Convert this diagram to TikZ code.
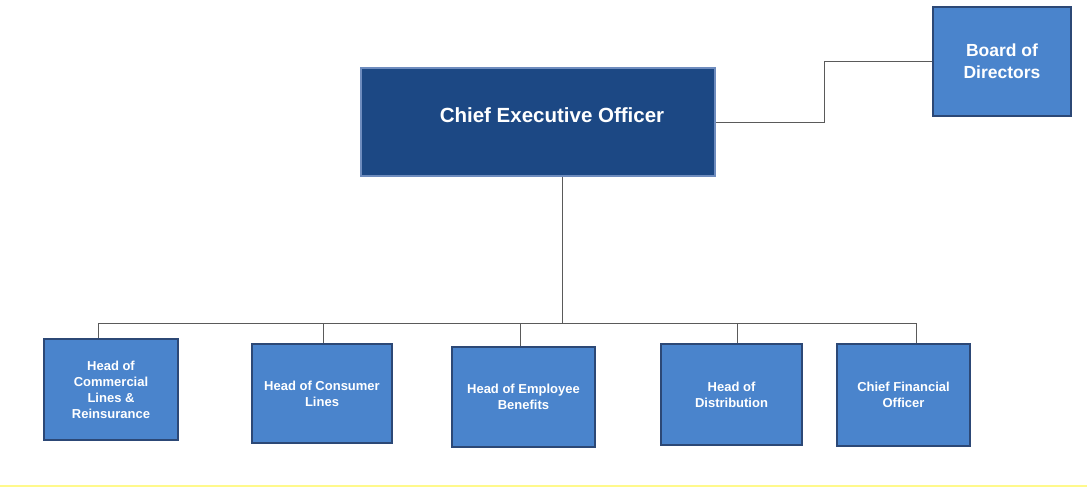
\documentclass[tikz,border=0pt]{standalone}
\usepackage{fontspec}
\setmainfont{Liberation Sans}
\usetikzlibrary{positioning}
\definecolor{ceoblue}{RGB}{28,72,132}
\definecolor{ceorim}{RGB}{110,140,190}
\definecolor{unitblue}{RGB}{74,132,204}
\definecolor{unitrim}{RGB}{44,72,118}
\definecolor{wiregray}{RGB}{90,90,90}
\tikzset{
  box/.style={rectangle, draw, line width=1.6pt, text=white, align=center,
              inner sep=2pt, font=\bfseries},
  topbox/.style={box, fill=ceoblue, draw=ceorim},
  unitbox/.style={box, fill=unitblue, draw=unitrim},% the five heads + board
  wire/.style={wiregray, line width=0.8pt}
}
\begin{document}
\begin{tikzpicture}[x=1pt, y=-1pt,
  headtext/.style={font=\bfseries\fontsize{13}{16}\selectfont},
  boardtext/.style={font=\bfseries\fontsize{17.5}{22}\selectfont},
  ceotext/.style={text=white, font=\bfseries\fontsize{20.5}{24}\selectfont},
]
\useasboundingbox (0,0) rectangle (1087,488);
% top level
\node[topbox, minimum width=354pt, minimum height=108pt] (ceo) at (538,122) {};
\node[ceotext] (ceo label) at ([xshift=14pt, yshift=7pt]ceo.center)
  {Chief Executive Officer};
\node[unitbox, boardtext, minimum width=138pt, minimum height=109pt] (board) at (1002,61.5)
  {Board of\\Directors};
% heads
\node[unitbox, headtext, minimum width=134pt, minimum height=101pt] (commercial) at (111,389.5)
  {Head of\\Commercial\\Lines \&\\Reinsurance};
\node[unitbox, headtext, minimum width=140pt, minimum height=99pt] (consumer) at (322,393.5)
  {Head of Consumer\\Lines};
\node[unitbox, headtext, minimum width=143pt, minimum height=100pt] (employee) at (523.5,397)
  {Head of Employee\\Benefits};
\node[unitbox, headtext, minimum width=141pt, minimum height=101pt] (distribution) at (731.5,394.5)
  {Head of\\Distribution};
\node[unitbox, headtext, minimum width=133pt, minimum height=102pt] (cfo) at (903.5,395)
  {Chief Financial\\Officer};
% bus and stems
\coordinate (bus ceo) at (562,323);
\coordinate (bus commercial) at (98,323);
\coordinate (bus consumer) at (323,323);
\coordinate (bus employee) at (520,323);
\coordinate (bus distribution) at (737,323);
\coordinate (bus cfo) at (916,323);
\draw[wire] (bus ceo |- ceo.south) -- (bus ceo);
\draw[wire] (bus commercial) -- (bus cfo);
\foreach \n in {commercial, consumer, employee, distribution, cfo}
  \draw[wire] (bus \n) -- (bus \n |- \n.north);
\draw[wire] (ceo.east) -- ++(109,0) |- (board.west);
% faint rule along the foot
\draw[yellow!45, line width=1.2pt] (0,486) -- (1087,486);
\end{tikzpicture}
\end{document}
